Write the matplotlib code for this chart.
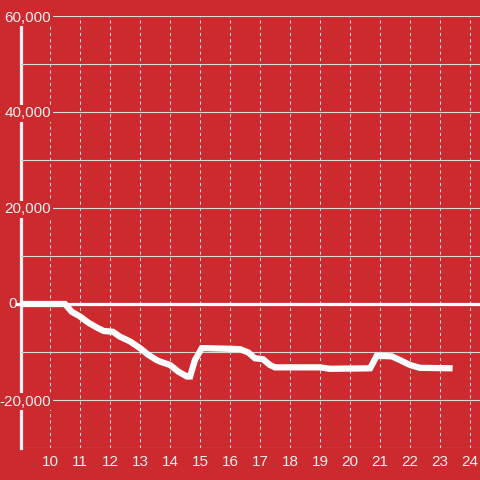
import matplotlib.pyplot as plt
import matplotlib.transforms as mtransforms

# hour of day vs running balance
hours = [9.0, 10.5, 10.72, 11.0, 11.28, 11.56, 11.78, 12.1, 12.33, 12.67, 13.0,
         13.28, 13.56, 13.67, 14.0, 14.28, 14.56, 14.67, 14.83, 15.06, 15.22,
         16.33, 16.61, 16.83, 17.1, 17.33, 17.5, 19.0, 19.33, 20.67, 20.89,
         21.39, 21.67, 22.0, 22.33, 23.42]
balance = [0, 0, -1600, -2600, -3900, -4900, -5600, -5800, -6800, -7800, -9200,
           -10600, -11700, -12000, -12700, -14100, -15100, -15100, -11700, -9200, -9200,
           -9400, -10100, -11300, -11500, -12700, -13200, -13200, -13500, -13400, -10800,
           -10900, -11700, -12700, -13300, -13400]

y_ticks = [60000, 40000, 20000, -20000]
y_tick_labels = ['60,000', '40,000', '20,000', '-20,000']
y_minor = [50000, 30000, 10000, -10000, -30000]
x_ticks = list(range(10, 25))

bg = '#cc2a2f'
fg = '#eeeeee'
plt.rcParams['font.family'] = ['Liberation Sans', 'DejaVu Sans']

fig = plt.figure(figsize=(4.8, 4.8), dpi=100, facecolor=bg)
ax = fig.add_axes([21 / 480, 32 / 480, 459 / 480, 432 / 480], facecolor=bg)
ax.set_xlim(9.0333, 24.3333)
ax.set_ylim(-30000, 60000)

ax.set_xticks(x_ticks)
ax.set_yticks(y_ticks)
ax.set_yticklabels(y_tick_labels)
ax.set_yticks(y_minor, minor=True)

ax.grid(axis='y', which='both', color='#d9d9d9', linewidth=0.8)
ax.grid(axis='x', color='#e0e0e0', linewidth=0.75, linestyle=(0, (3, 3)))
ax.yaxis.set_zorder(3)

ax.tick_params(axis='y', which='both', length=0, pad=-21.6, labelsize=11, labelcolor=fg)
ax.tick_params(axis='x', length=0, pad=5, labelsize=11, labelcolor=fg)
for t in ax.yaxis.get_major_ticks():
    t.label1.set_bbox(dict(facecolor=bg, edgecolor='none', pad=1.2))

for side in ['top', 'right', 'bottom']:
    ax.spines[side].set_visible(False)
ax.spines['left'].set_color('#f2f2f2')
ax.spines['left'].set_linewidth(2.3)

# zero line and its label
ax.axhline(0, xmin=-4 / 459, xmax=1, color='white', linewidth=2.3, zorder=3.5, clip_on=False)
trans = mtransforms.blended_transform_factory(ax.transAxes, ax.transData)
ax.text(-4 / 459, 0, '0', transform=trans, ha='right', va='center', fontsize=11, color=fg)

ax.plot(hours, balance, color='white', linewidth=4.5, solid_joinstyle='miter',
        solid_capstyle='butt', zorder=4)

fig.savefig('out.png', dpi=100, facecolor=bg)
